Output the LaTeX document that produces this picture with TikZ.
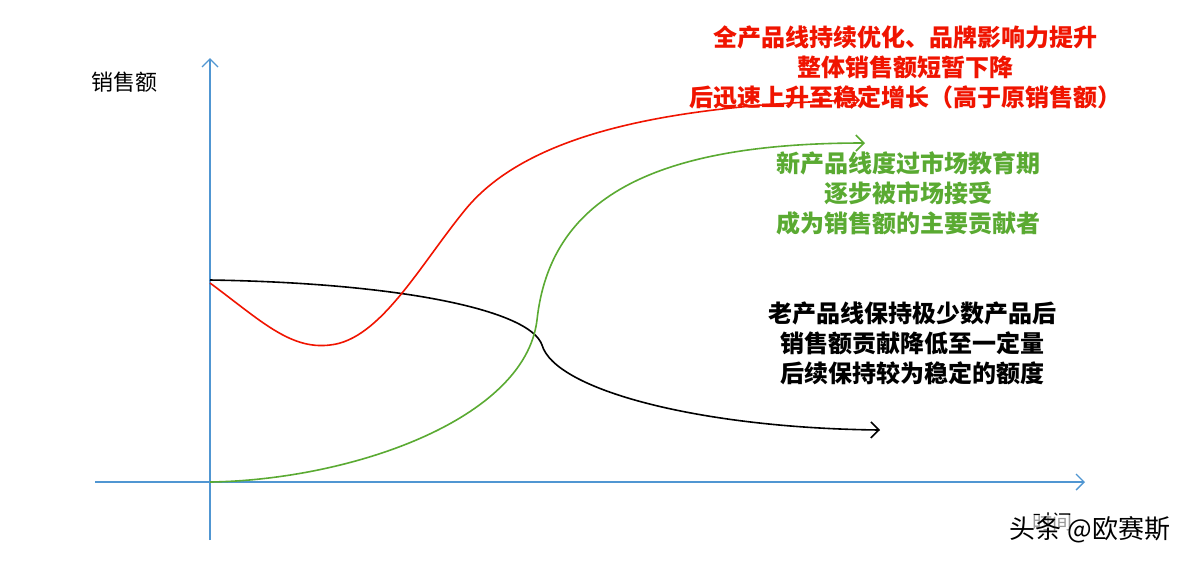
\documentclass[tikz,border=0pt]{standalone}
\usepackage{fontspec}
\usetikzlibrary{arrows.meta}
\newfontfamily\cjk{Noto Sans CJK SC}
\definecolor{axblue}{RGB}{80,150,210}
\definecolor{cred}{RGB}{240,20,0}
\definecolor{cgreen}{RGB}{90,170,50}
\begin{document}
\begin{tikzpicture}[x=0.5pt,y=-0.5pt,
  ax/.style={draw=axblue,line width=0.7pt,-{Straight Barb[length=4pt]}},
  crv/.style={line width=0.8pt,-{Straight Barb[length=4pt]}},
  lbl/.style={font=\cjk\bfseries\fontsize{12}{15}\selectfont,align=center}]
\useasboundingbox (0,0) rectangle (1200,564);
\fill[white] (0,0) rectangle (1200,564);
\coordinate (ys) at (210,540); \coordinate (ye) at (210,58);
\coordinate (xs) at (95,482); \coordinate (xe) at (1085,482);
\draw[ax] (ys) -- (ye);
\draw[ax] (xs) -- (xe);
\draw[crv,black] (210,280) .. controls (400,283) and (530,310) .. (542,345) .. controls (555,390) and (700,428) .. (880,430);
\draw[crv,cred] (210,283) .. controls (260,320) and (290,350) .. (330,345) .. controls (380,340) and (420,265) .. (465,210) .. controls (530,130) and (680,105) .. (860,100);
\draw[crv,cgreen] (210,482) .. controls (350,480) and (525,420) .. (537,320) .. controls (550,200) and (650,143) .. (865,143);
\node[font=\cjk\fontsize{11}{13}\selectfont] (yl) at (124,82) {销售额};
\node[font=\cjk\fontsize{10}{12}\selectfont] (xl) at (1052,522) {时间};
\node[lbl,text=cred] (tr) at (905,67) {全产品线持续优化、品牌影响力提升\\整体销售额短暂下降\\后迅速上升至稳定增长（高于原销售额）};
\node[lbl,text=cgreen] (tg) at (908,193) {新产品线度过市场教育期\\逐步被市场接受\\成为销售额的主要贡献者};
\node[lbl,text=black] (tb) at (912,343) {老产品线保持极少数产品后\\销售额贡献降低至一定量\\后续保持较为稳定的额度};
\node[font=\cjk\fontsize{13}{15}\selectfont,fill=white,fill opacity=0.6,text opacity=1,inner sep=1pt] (wm) at (1090,530) {头条 @欧赛斯};
\end{tikzpicture}
\end{document}
